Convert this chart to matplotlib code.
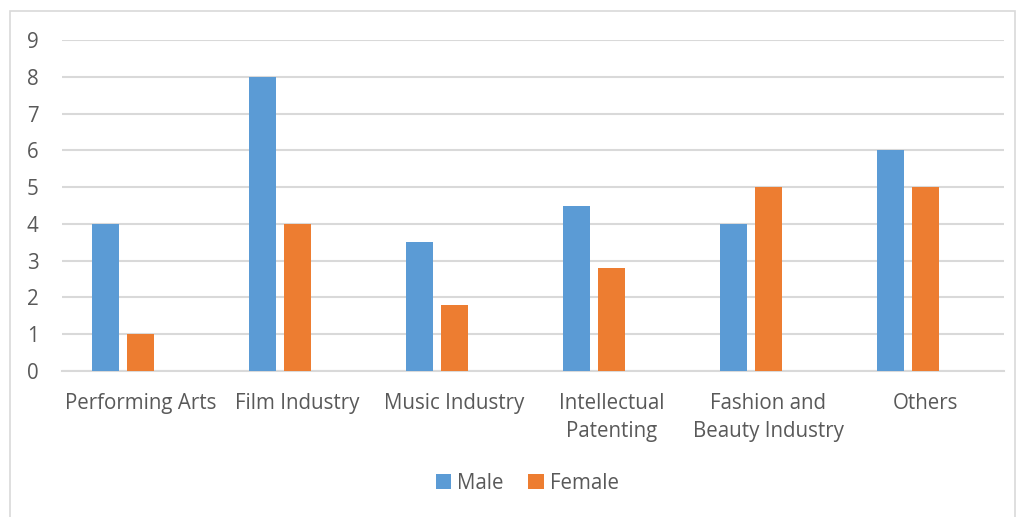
import matplotlib
matplotlib.use("Agg")
import matplotlib.pyplot as plt
from matplotlib.patches import Rectangle
import numpy as np

categories = ["Performing Arts", "Film Industry", "Music Industry",
              "Intellectual\nPatenting", "Fashion and\nBeauty Industry", "Others"]
male = [4, 8, 3.5, 4.5, 4, 6]
female = [1, 4, 1.8, 2.8, 5, 5]

plt.rcParams["font.family"] = ["Open Sans", "DejaVu Sans"]
text_color = "#595959"
grid_color = "#d9d9d9"

fig = plt.figure(figsize=(10.2, 5.17), dpi=100)
ax = fig.add_axes([0.0608, 0.2824, 0.9232, 0.6402])

x = np.arange(len(categories))
step = 0.223
width = 0.173
ax.bar(x - step, male, width, color="#5b9bd5", label="Male", zorder=3)
ax.bar(x, female, width, color="#ed7d31", label="Female", zorder=3)

ax.set_xlim(-0.5, len(categories) - 0.5)
ax.set_ylim(0, 9)
ax.set_yticks(range(0, 10))
ax.yaxis.grid(True, color=grid_color, linewidth=1.5, zorder=0)
ax.set_xticks(x)
ax.set_xticklabels(categories, fontsize=14.8, color=text_color, linespacing=1.45)
ax.tick_params(axis="y", labelsize=14.8, labelcolor=text_color, length=0, pad=17)
ax.tick_params(axis="x", length=0, pad=16)
for side in ["top", "right", "left"]:
    ax.spines[side].set_visible(False)
ax.spines["bottom"].set_color(grid_color)
ax.spines["bottom"].set_linewidth(1.5)

leg = fig.legend(loc="center", bbox_to_anchor=(0.517, 0.065), ncol=2, frameon=False,
                 fontsize=14.8, handlelength=0.75, handleheight=0.75, handletextpad=0.3,
                 columnspacing=1.2)
for t in leg.get_texts():
    t.set_color(text_color)

fig.patches.append(Rectangle((10 / 1020, -0.01), 1005 / 1020, 1 - 11 / 517 + 0.01,
                             transform=fig.transFigure, fill=False,
                             edgecolor=grid_color, linewidth=1.2))

fig.savefig("out.png", dpi=100)
